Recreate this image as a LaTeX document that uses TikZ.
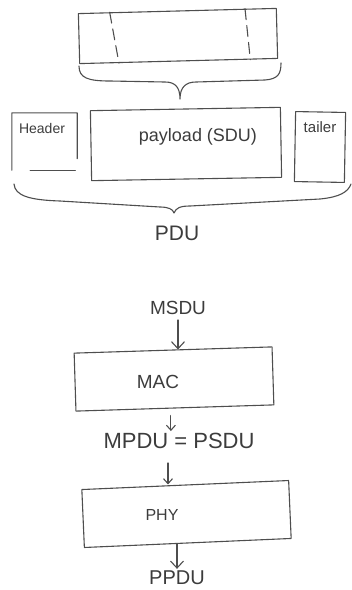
\documentclass[tikz,border=0pt]{standalone}
\usepackage{fontspec}
\setmainfont{Liberation Sans}
\usetikzlibrary{arrows.meta,calc}
\definecolor{pencil}{RGB}{78,78,78}
\definecolor{ink}{RGB}{60,60,60}
\begin{document}
\begin{tikzpicture}[x=1pt,y=-1pt,
  line/.style={draw=pencil, line width=1.1pt, line cap=round, line join=round},
  box/.style={line, inner sep=0pt},
  frame/.style={inner sep=0pt},
  seg/.style={line, dash pattern=on 11pt off 6pt},
  lbl/.style={font=\fontsize{#1}{#1}\selectfont, text=ink, inner sep=2pt},
  arr/.style={line, -{Straight Barb[length=7pt,width=13pt,line width=1.1pt]}},
  sarr/.style={line, -{Straight Barb[length=5pt,width=9pt,line width=1.1pt]}}]
\useasboundingbox (0,0) rectangle (352,590);

% --- service data unit on top, split by dashed lines ---
\node[box, minimum width=198pt, minimum height=50pt, rotate=1.5] (sdu) at (178,36) {};
\draw[seg] ($(sdu.north west)!0.16!(sdu.north east)$) -- ($(sdu.south west)!0.20!(sdu.south east)$);
\draw[seg] ($(sdu.north west)!0.84!(sdu.north east)$) -- ($(sdu.south west)!0.86!(sdu.south east)$);

% brace gathering the SDU into the payload
\coordinate (sdutip) at (180,99);
\draw[line] (79,66) .. controls (79,78) and (88,81) .. (110,81) -- (165,82)
  .. controls (175,82) and (180,87) .. (sdutip)
  .. controls (180,87) and (186,82) .. (196,82) -- (265,80)
  .. controls (278,79) and (281,74) .. (281,63);

% --- protocol data unit: header, payload, trailer ---
\node[frame, minimum width=65pt, minimum height=57pt] (hdr) at (44.5,141.5) {};
\draw[line] (hdr.south west) -- (hdr.north west) -- (hdr.north east)
  -- ($(hdr.north east)!0.8!(hdr.south east)$);
\draw[line] ($(hdr.south west)!0.28!(hdr.south east)$) -- ($(hdr.south west)!0.97!(hdr.south east)$);
\node[lbl=14] (hdrtext) at (42,128) {Header};

\node[box, minimum width=190pt, minimum height=70pt, rotate=1] (pl) at (186,144) {};
\node[lbl=18] (pltext) at (198,137) {payload (SDU)};

\node[box, minimum width=50pt, minimum height=70pt, rotate=-1] (tr) at (320,147) {};
\node[lbl=15] (trtext) at (320,127) {tailer};

% brace gathering everything into the PDU
\coordinate (pdutip) at (174,213);
\draw[line] (14,184) .. controls (15,196) and (30,200) .. (60,201) -- (160,207)
  .. controls (168,207) and (173,209) .. (pdutip)
  .. controls (176,208) and (180,206) .. (190,206) -- (320,199)
  .. controls (340,197) and (348,192) .. (351,184);
\node[lbl=21] (pdu) at (177,233) {PDU};

% --- MAC / PHY layering ---
\node[lbl=19] (msdu) at (178,308) {MSDU};
\node[box, minimum width=198pt, minimum height=58pt, rotate=1.8] (mac) at (174,379) {};
\node[lbl=19] (mactext) at (158,382) {MAC};
\node[lbl=22] (mpdu) at (179,441) {MPDU = PSDU};
\node[box, minimum width=207pt, minimum height=58pt, rotate=2.5] (phy) at (186.5,514) {};
\node[lbl=16] (phytext) at (162,515) {PHY};
\node[lbl=20] (ppdu) at (177,578) {PPDU};

\draw[arr] ([yshift=-3pt]msdu.south) -- (msdu.south |- mac.north);
\draw[sarr] ([xshift=-4pt,yshift=-7pt]mac.south) -- ([xshift=-4pt]mac.south |- mpdu.north);
\draw[sarr] ([xshift=-11pt,yshift=-12pt]mpdu.south) -- ([xshift=-11pt]mpdu.south |- phy.north);
\draw[arr] (phy.south -| ppdu.north) -- (ppdu.north);
\end{tikzpicture}
\end{document}
